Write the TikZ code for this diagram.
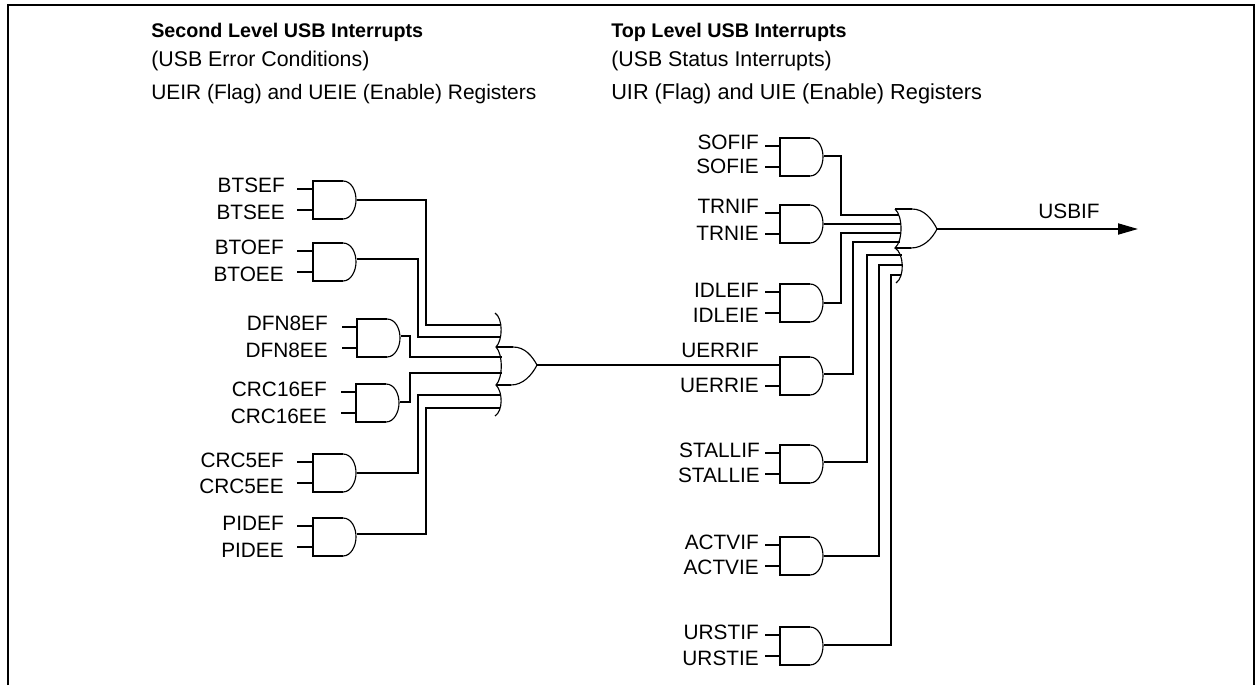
\documentclass[tikz,border=0pt]{standalone}
\usepackage{fontspec}
\setmainfont{Liberation Sans}
\usetikzlibrary{arrows.meta,calc}
\tikzset{
  x=0.75pt,y=-0.75pt,
  wire/.style={line width=1.4pt,line join=miter},
  thin curve/.style={line width=0.85pt},
  lab/.style={inner sep=0pt,anchor=base east,font=\fontsize{15.6}{18}\selectfont},
  head/.style={inner sep=0pt,anchor=base west,align=left,font=\fontsize{16}{18}\selectfont},
  headb/.style={head,font=\fontsize{14.8}{18}\selectfont\bfseries},
  gatebody/.style={inner sep=0pt,minimum width=33pt,minimum height=28pt,anchor=north west},
}
\def\outoff{19}
% name, left x, top y, label right x, label1, baseline1, label2, baseline2, stub length
\newcommand\AndGate[9]{%
  \node[gatebody] (#1) at (#2,#3) {};
  \coordinate (#1-a) at ($(#2,#3)+(0,8)$);
  \coordinate (#1-b) at ($(#2,#3)+(0,29)$);
  \coordinate (#1-o) at ($(#2,#3)+(44,\outoff)$);
  \draw[wire] ($(#2,#3)+(30,0)$) -- (#2,#3) -- ($(#2,#3)+(0,38)$) -- ($(#2,#3)+(30,38)$);
  \draw[thin curve] ($(#2,#3)+(30,0)$) .. controls ($(#2,#3)+(38,0)$) and ($(#2,#3)+(43,9)$) .. ($(#2,#3)+(43,19)$)
     .. controls ($(#2,#3)+(43,28)$) and ($(#2,#3)+(38,38)$) .. ($(#2,#3)+(30,38)$);
  \node[lab] (#1-la) at (#4,#6) {#5};
  \node[lab] (#1-lb) at (#4,#8) {#7};
  \coordinate (#1-sa) at ($(#1-a)+(-#9,0)$);
  \coordinate (#1-sb) at ($(#1-b)+(-#9,0)$);
  \draw[wire] (#1-sa) -- (#1-a);
  \draw[wire] (#1-sb) -- (#1-b);
}
\begin{document}
\begin{tikzpicture}
\useasboundingbox (0,0) rectangle (1255,685);
\draw[line width=1.5pt] (8,685) -- (8,5) -- (1254,5) -- (1254,685);

\node[headb] (h1) at (151,38) {Second Level USB Interrupts};
\node[head] (h2) at (151,66) {(USB Error Conditions)};
\node[head,font=\fontsize{15.7}{18}\selectfont] (h3) at (151,99) {UEIR (Flag) and UEIE (Enable) Registers};
\node[headb] (h4) at (611,38) {Top Level USB Interrupts};
\node[head] (h5) at (611,66) {(USB Status Interrupts)};
\node[head,font=\fontsize{16.3}{18}\selectfont] (h6) at (611,99) {UIR (Flag) and UIE (Enable) Registers};

% second level gates
\AndGate{bts}{313}{181}{285}{BTSEF}{192}{BTSEE}{219}{16}
\def\outoff{16}
\AndGate{bto}{313}{243}{284}{BTOEF}{254}{BTOEE}{281}{16}
\def\outoff{17}
\AndGate{dfn}{357}{319}{328}{DFN8EF}{330}{DFN8EE}{357}{15}
\def\outoff{18}
\AndGate{crc}{356}{384}{327}{CRC16EF}{396}{CRC16EE}{423}{15}
\def\outoff{19}
\AndGate{cr5}{313}{454}{284}{CRC5EF}{467}{CRC5EE}{493}{16}
\def\outoff{16}
\AndGate{pid}{313}{518}{284}{PIDEF}{530}{PIDEE}{557}{16}

% top level gates
\def\outoff{18}
\AndGate{sof}{780}{138}{759}{SOFIF}{149}{SOFIE}{173}{15}
\def\outoff{19}
\AndGate{trn}{780}{205}{759}{TRNIF}{213}{TRNIE}{240}{15}
\AndGate{idl}{780}{284}{759}{IDLEIF}{297}{IDLEIE}{322}{15}
\def\outoff{17}
\AndGate{uer}{780}{357}{759}{UERRIF}{357}{UERRIE}{392}{15}
\AndGate{sta}{780}{445}{760}{STALLIF}{457}{STALLIE}{482}{15}
\def\outoff{19}
\AndGate{act}{780}{537}{759}{ACTVIF}{549}{ACTVIE}{574}{15}
\def\outoff{18}
\AndGate{urs}{780}{627}{759}{URSTIF}{639}{URSTIE}{665}{15}

% second level OR gate
\coordinate (or1-o) at (537,365);
\draw[wire] (496,347) -- (513,347);
\draw[wire] (496,385) -- (511,385);
\draw[thin curve] (513,347) .. controls (525,347) and (532,356) .. (537,365)
   .. controls (532,375) and (523,385) .. (511,385);
\draw[thin curve] (495,313) .. controls (503,318) and (503,340) .. (496,347)
   .. controls (503,354) and (503,378) .. (496,385)
   .. controls (503,392) and (503,411) .. (495,416);

% top level OR gate
\coordinate (or2-o) at (937,229);
\draw[wire] (895,209) -- (912,209);
\draw[wire] (895,248) -- (911,248);
\draw[thin curve] (912,209) .. controls (924,209) and (932,219) .. (937,229)
   .. controls (932,239) and (923,248) .. (911,248);
\draw[thin curve] (895,209) .. controls (903,216) and (903,241) .. (895,248)
   .. controls (904,253) and (905,277) .. (896,283);

% second level connectors
\draw[wire] (bts-o) -| (426,325) -- (500,325);
\draw[wire] (bto-o) -| (418,337) -- (501,337);
\draw[wire] (dfn-o) -| (410,357) -- (502,357);
\draw[wire] (crc-o) -| (410,373) -- (502,373);
\draw[wire] (cr5-o) -| (418,395) -- (501,395);
\draw[wire] (pid-o) -| (426,408) -- (500,408);

% between levels
\draw[wire] (or1-o) -- (uer-a);

% top level connectors
\draw[wire] (sof-o) -| (841,215) -- (899,215);
\draw[wire] (trn-o) -- (901,224);
\draw[wire] (idl-o) -| (841,233) -- (901,233);
\draw[wire] (uer-o) -| (853,242) -- (900,242);
\draw[wire] (sta-o) -| (867,255) -- (902,255);
\draw[wire] (act-o) -| (879,265) -- (903,265);
\draw[wire] (urs-o) -| (891,275) -- (901,275);

% output
\coordinate (usb-end) at (1138,229);
\draw[wire,-{Triangle[length=15pt,width=8.25pt]}] (or2-o) -- (usb-end);
\node[lab,anchor=base] (usb) at (1069,218) {USBIF};
\end{tikzpicture}
\end{document}
